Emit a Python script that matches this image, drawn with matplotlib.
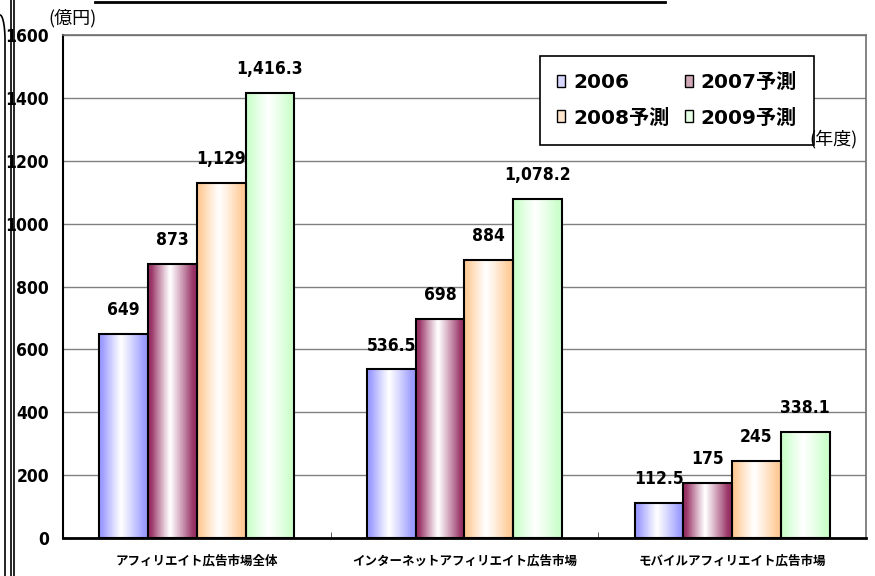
import numpy as np
import matplotlib.pyplot as plt
from matplotlib import font_manager
from matplotlib.colors import to_rgb
from matplotlib.patches import Patch
from matplotlib.lines import Line2D

# ---------- DATA ----------
categories = ["アフィリエイト広告市場全体", "インターネットアフィリエイト広告市場", "モバイルアフィリエイト広告市場"]
series = ["2006", "2007予測", "2008予測", "2009予測"]
values = [
    [649, 536.5, 112.5],
    [873, 698, 175],
    [1129, 884, 245],
    [1416.3, 1078.2, 338.1],
]
value_labels = [
    ["649", "536.5", "112.5"],
    ["873", "698", "175"],
    ["1,129", "884", "245"],
    ["1,416.3", "1,078.2", "338.1"],
]
colors = ["#9c9cff", "#993366", "#ffcc99", "#ccffcc"]
yticks = [0, 200, 400, 600, 800, 1000, 1200, 1400, 1600]

# ---------- FONTS ----------
jp_font = ["Noto Sans CJK JP", "DejaVu Sans"]
plt.rcParams["font.family"] = jp_font

# look for a narrow bold face for the numbers, else plain bold sans
narrow = None
for f in font_manager.fontManager.ttflist:
    n = (f.name + " " + f.fname).lower()
    if ("narrow" in n or "condensed" in n) and f.weight in (700, "bold"):
        narrow = font_manager.FontProperties(fname=f.fname)
        break
if narrow is not None:
    num_prop = dict(fontproperties=narrow)
    num_size = 12.5
else:
    num_prop = dict(family=["Liberation Sans", "DejaVu Sans"], fontweight="bold")
    num_size = 12


def num_text(size):
    d = dict(num_prop)
    if "fontproperties" in d:
        p = d["fontproperties"].copy()
        p.set_size(size)
        return {"fontproperties": p}
    d["fontsize"] = size
    return d


def gradient_img(color):
    # color at the edges, white near the middle
    xs = np.linspace(0, 1, 64)
    c = 0.45
    t = np.where(xs < c, (c - xs) / c, (xs - c) / (1 - c))
    t = np.clip(t * 1.15, 0, 1) ** 1.1
    rgb = np.array(to_rgb(color))
    img = 1 - t[:, None] * (1 - rgb[None, :])
    return img[None, :, :]


fig = plt.figure(figsize=(8.75, 5.76), dpi=100)
ax = fig.add_axes([63 / 875, 1 - 538 / 576, (866 - 63) / 875, (538 - 35) / 576])

x = np.arange(len(categories))
width = 0.182
for i, s in enumerate(series):
    pos = x + (i - 1.5) * width
    bars = ax.bar(pos, values[i], width, facecolor="none", edgecolor="black",
                  linewidth=1.5, zorder=3, label=s)
    img = gradient_img(colors[i])
    for b, lab in zip(bars, value_labels[i]):
        im = ax.imshow(img, extent=[b.get_x(), b.get_x() + b.get_width(), 0, b.get_height()],
                       aspect="auto", zorder=2, interpolation="bilinear")
        im.set_clip_path(b)
        ax.annotate(lab, (b.get_x() + b.get_width() / 2, b.get_height()),
                    xytext=(0, 17), textcoords="offset points", ha="center", va="center",
                    **num_text(num_size))

ax.set_xlim(-0.5, 2.5)
ax.set_ylim(0, 1600)
ax.set_yticks(yticks)
ax.set_yticklabels([str(v) for v in yticks])
for tl in ax.get_yticklabels():
    tl.update(num_text(num_size))
ax.tick_params(axis="y", length=0, pad=10)
ax.set_xticks(x)
ax.set_xticklabels(categories, fontsize=9, fontweight="bold")
ax.tick_params(axis="x", length=0, pad=12)
ax.set_xticks([0.5, 1.5], minor=True)
ax.tick_params(axis="x", which="minor", direction="in", length=4, color="#404040")
ax.grid(axis="y", color="#808080", linewidth=1, zorder=0)
ax.set_axisbelow(True)

ax.spines["left"].set_linewidth(1.5)
ax.spines["bottom"].set_linewidth(2)
for side in ["top", "right"]:
    ax.spines[side].set_color("#707070")
    ax.spines[side].set_linewidth(1.2)

# legend fills column-wise, so reorder to read row-wise like the original
leg_colors = ["#d8d8ff", "#d0a8b8", "#ffe6cc", "#e6ffe6"]
order = [0, 2, 1, 3]
handles = [Patch(facecolor=leg_colors[k], edgecolor="black", linewidth=1) for k in order]
leg = ax.legend(handles, [series[k] for k in order], ncol=2, loc="upper left",
                bbox_to_anchor=(0.594, 0.958), borderaxespad=0, fancybox=False,
                edgecolor="black", framealpha=1, handlelength=0.4, handleheight=0.55,
                handletextpad=0.4, columnspacing=0.75, borderpad=0.85, labelspacing=0.8,
                prop={"family": ["DejaVu Sans", "Noto Sans CJK JP"], "size": 14.5, "weight": "bold"})
leg.get_frame().set_linewidth(1.2)
leg.set_zorder(5)

fig.text(48 / 875, 1 - 18 / 576, "(億円)", fontsize=13, ha="left", va="center")
fig.text(809 / 875, 1 - 139 / 576, "(年度)", fontsize=13, ha="left", va="center")

# ---------- FRAME DECORATIONS (cropped screenshot edges) ----------
fig.add_artist(Line2D([11 / 875, 11 / 875], [0, 1], color="black", linewidth=1.2))
fig.add_artist(Line2D([14 / 875, 14 / 875], [0, 1], color="black", linewidth=1.2))
fig.add_artist(Line2D([95 / 875, 665 / 875], [1 - 1.5 / 576, 1 - 1.5 / 576], color="black", linewidth=2))
t = np.linspace(0, np.pi / 2, 30)
bx = (0 + 5 * np.sin(t)) / 875
by = 1 - (15 + 25 * (1 - np.cos(t))) / 576
fig.add_artist(Line2D(np.r_[bx, 5 / 875], np.r_[by, 0], color="black", linewidth=1.2))

fig.savefig("out.png", dpi=100)
